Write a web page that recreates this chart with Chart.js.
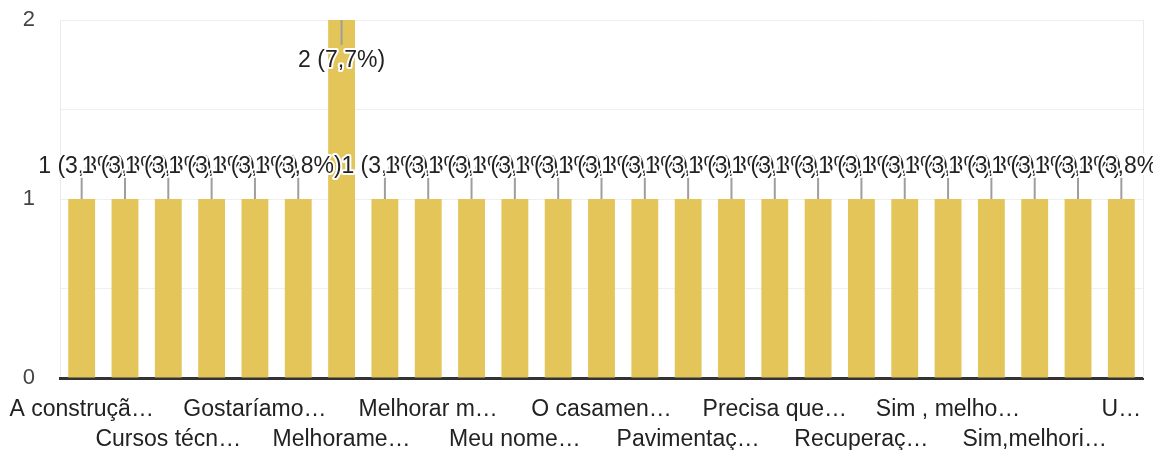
<!DOCTYPE html>
<html>
<head>
<meta charset="utf-8">
<script src="https://cdn.jsdelivr.net/npm/chart.js@4.4.1/dist/chart.umd.min.js"></script>
<style>
  html, body { margin: 0; padding: 0; background: #fff; }
  #wrap { width: 1153px; height: 450px; }
</style>
</head>
<body>
<div id="wrap"><canvas id="chart-respostas"></canvas></div>
<script>
// categorias (só as de índice par aparecem no eixo; as outras ficam ocultas)
const categorias = [
  "A construçã…", "…", "Cursos técn…", "…", "Gostaríamo…", "…",
  "Melhorame…", "…", "Melhorar m…", "…", "Meu nome…", "…",
  "O casamen…", "…", "Pavimentaç…", "…", "Precisa que…", "…",
  "Recuperaç…", "…", "Sim , melho…", "…", "Sim,melhori…", "…", "U…"
];
const respostas = [1, 1, 1, 1, 1, 1, 2, 1, 1, 1, 1, 1, 1, 1, 1, 1, 1, 1, 1, 1, 1, 1, 1, 1, 1];
const yTicks = [0, 1, 2];

const FONT = "'Liberation Sans', Arial, sans-serif";
const total = respostas.reduce((a, b) => a + b, 0);

function rotulo(v) {
  return v + " (" + ((v / total) * 100).toFixed(1).replace(".", ",") + "%)";
}

// linhas-guia e rótulos de valor sobre as barras
const rotulosPlugin = {
  id: "rotulos",
  beforeDatasetsDraw(chart) {
    const { ctx, chartArea } = chart;
    ctx.save();
    ctx.strokeStyle = "#ebebeb";
    ctx.lineWidth = 1;
    ctx.beginPath();
    ctx.moveTo(chartArea.right + 0.5, chartArea.top);
    ctx.lineTo(chartArea.right + 0.5, chartArea.bottom);
    ctx.stroke();
    ctx.restore();
  },
  afterDatasetsDraw(chart) {
    const { ctx, chartArea } = chart;
    const meta = chart.getDatasetMeta(0);
    ctx.save();
    ctx.font = "23px " + FONT;
    ctx.textAlign = "center";
    ctx.textBaseline = "middle";
    meta.data.forEach((bar, i) => {
      const v = respostas[i];
      let y1, y2, ty;
      if (bar.y - 50 > chartArea.top) {
        y1 = bar.y; y2 = bar.y - 22; ty = bar.y - 32;
      } else {
        y1 = bar.y; y2 = bar.y + 25; ty = bar.y + 41;
      }
      ctx.strokeStyle = "#9e9e9e";
      ctx.lineWidth = 2;
      ctx.beginPath();
      ctx.moveTo(bar.x, y1);
      ctx.lineTo(bar.x, y2);
      ctx.stroke();
      const t = rotulo(v);
      ctx.strokeStyle = "#fff";
      ctx.lineWidth = 4;
      ctx.lineJoin = "round";
      ctx.strokeText(t, bar.x, ty);
      ctx.fillStyle = "#222";
      ctx.fillText(t, bar.x, ty);
    });
    ctx.restore();
  }
};

new Chart(document.getElementById("chart-respostas").getContext("2d"), {
  type: "bar",
  plugins: [rotulosPlugin],
  data: {
    labels: categorias,
    datasets: [{
      data: respostas,
      backgroundColor: "#e3c55a",
      borderWidth: 0,
      categoryPercentage: 1,
      barPercentage: 0.62
    }]
  },
  options: {
    responsive: true,
    maintainAspectRatio: false,
    animation: false,
    layout: { padding: { top: 20, right: 10, left: 0, bottom: 0 } },
    plugins: { legend: { display: false }, tooltip: { enabled: false } },
    scales: {
      y: {
        min: 0,
        max: 2,
        afterFit(scale) {
          scale.width = 60;
          scale.paddingTop = 0;
          scale.paddingBottom = 0;
        },
        afterBuildTicks(scale) {
          scale.ticks = [0, 0.5, 1, 1.5, 2].map(v => ({ value: v }));
        },
        grid: { color: "#efefef", lineWidth: 1, drawTicks: false },
        border: { display: true, color: "#ebebeb", width: 1 },
        ticks: {
          padding: 25,
          color: "#444",
          font: { size: 22, family: FONT },
          callback: (v) => yTicks.includes(v) ? String(v) : ""
        }
      },
      x: {
        afterFit(scale) {
          scale.height = 72;
          scale.paddingLeft = 0;
          scale.paddingRight = 0;
        },
        grid: { display: false, drawTicks: false },
        border: { display: true, color: "#333", width: 3 },
        ticks: {
          autoSkip: false,
          maxRotation: 0,
          minRotation: 0,
          padding: 16,
          color: "#222",
          font: { size: 23, family: FONT, lineHeight: 1.32 },
          callback: function (value, index) {
            if (index % 2 !== 0) return null;
            const lbl = categorias[index];
            return (index / 2) % 2 === 0 ? lbl : ["", lbl];
          }
        }
      }
    }
  }
});
</script>
</body>
</html>
